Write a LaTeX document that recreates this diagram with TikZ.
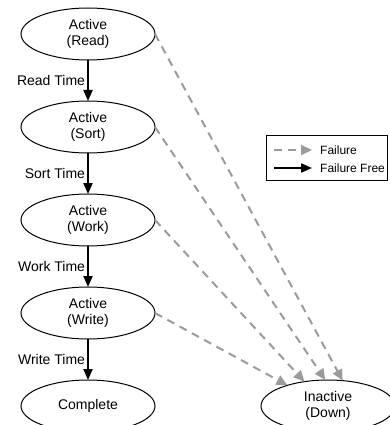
\documentclass[tikz,border=0pt]{standalone}
\usepackage{fontspec}
\setmainfont{Liberation Sans}
\usetikzlibrary{positioning,arrows.meta,shapes.geometric}
\definecolor{failgray}{RGB}{155,155,155}
\tikzstyle{state}=[ellipse, draw=black, line width=1pt, minimum width=134pt, minimum height=52pt, inner sep=0pt, outer sep=0pt, align=center, font=\fontsize{14}{16.5}\selectfont]
\tikzstyle{okline}=[-{Triangle[length=11pt,width=9pt]}, line width=2pt, black]
\tikzstyle{failline}=[-{Triangle[length=11pt,width=10pt]}, line width=2pt, failgray, dash pattern=on 8pt off 6pt]
\tikzstyle{tlabel}=[font=\fontsize{14}{16.5}\selectfont, inner sep=2pt, black]
\tikzstyle{legbox}=[rectangle, draw=black, line width=1pt, minimum width=121pt, minimum height=45pt]
\tikzstyle{legtext}=[font=\fontsize{12}{14}\selectfont, anchor=west, inner sep=0pt]

\begin{document}
\begin{tikzpicture}[x=1pt,y=-1pt,node distance=41pt]
\useasboundingbox (0,0) rectangle (389,425);
\node (READ) [state] at (88,34) {Active\\(Read)};
\node (SORT) [state,below=of READ] {Active\\(Sort)};
 \draw[okline] (READ) -- node[tlabel,left] {Read Time} (SORT);
\node (WORK) [state,below=of SORT] {Active\\(Work)};
 \draw[okline] (SORT) -- node[tlabel,left] {Sort Time} (WORK);
\node (WRITE) [state,below=of WORK] {Active\\(Write)};
 \draw[okline] (WORK) -- node[tlabel,left] {Work Time} (WRITE);
\node (COMP) [state,below=of WRITE] {Complete};
 \draw[okline] (WRITE) -- node[tlabel,left] {Write Time} (COMP);
\node (DOWN) [state,right=106pt of COMP] {Inactive\\(Down)};
 \draw[failline] (READ.east) -- (DOWN.60);
 \draw[failline] (SORT.east) -- (DOWN.96);
 \draw[failline] (WORK.east) -- (DOWN.134);
 \draw[failline] (WRITE.east) -- (DOWN.153);
% legend
\node (LEG) [legbox] at (327,157.5) {};
\coordinate (F1A) at (274,150); \coordinate (F1B) at (312,150);
 \draw[failline] (F1A) -- (F1B);
\node (F1T) [legtext] at (320,150) {Failure};
\coordinate (F2A) at (274,168); \coordinate (F2B) at (312,168);
 \draw[okline] (F2A) -- (F2B);
\node (F2T) [legtext] at (320,168) {Failure Free};
\end{tikzpicture}
\end{document}
